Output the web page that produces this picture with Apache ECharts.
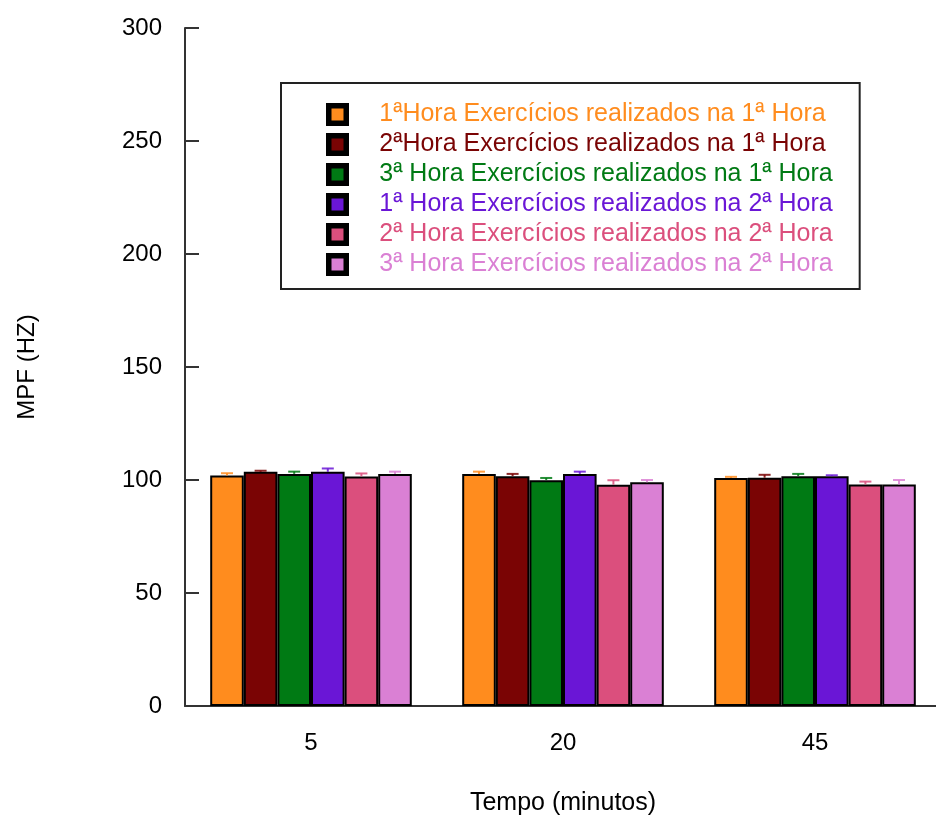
<!DOCTYPE html>
<html>
<head>
<meta charset="utf-8">
<script src="https://cdn.jsdelivr.net/npm/echarts@6/dist/echarts.min.js"></script>
<style>
html,body{margin:0;padding:0;background:#fff;}
#chart{width:936px;height:819px;}
</style>
</head>
<body>
<div id="chart"></div>
<script>
const categories = ['5', '20', '45'];
const seriesNames = [
  '1ªHora Exercícios realizados na 1ª Hora',
  '2ªHora Exercícios realizados na 1ª Hora',
  '3ª Hora Exercícios realizados na 1ª Hora',
  '1ª Hora Exercícios realizados na 2ª Hora',
  '2ª Hora Exercícios realizados na 2ª Hora',
  '3ª Hora Exercícios realizados na 2ª Hora'
];
const colors = ['#FF8C1E', '#7A0404', '#007A14', '#6A16D6', '#DB4F7D', '#DA80D4'];
const values1 = [102, 102.7, 100.9];
const values2 = [103.6, 101.7, 101];
const values3 = [102.7, 99.9, 101.7];
const values4 = [103.6, 102.7, 101.7];
const values5 = [101.6, 97.9, 98];
const values6 = [102.7, 99, 98];
const errors1 = [1, 1, 0.5];
const errors2 = [0.5, 1, 1.3];
const errors3 = [1, 1, 1];
const errors4 = [1.5, 1, 0.4];
const errors5 = [1.3, 2, 1.3];
const errors6 = [1, 1, 2];
const yTicks = [0, 50, 100, 150, 200, 250, 300];

const allValues = [values1, values2, values3, values4, values5, values6];
const allErrors = [errors1, errors2, errors3, errors4, errors5, errors6];
const nSeries = allValues.length;
const catGapRatio = 0.2;

const chart = echarts.init(document.getElementById('chart'));
const FONT = 'Liberation Sans, Arial, sans-serif';

const series = [];
allValues.forEach((vals, i) => {
  series.push({
    name: seriesNames[i],
    type: 'bar',
    data: vals,
    barGap: '0%',
    barCategoryGap: '20%',
    itemStyle: { color: colors[i], borderColor: '#000', borderWidth: 2 },
    emphasis: { disabled: true }
  });
});
allValues.forEach((vals, i) => {
  series.push({
    name: 'err' + i,
    type: 'custom',
    z: 5,
    data: vals.map((v, k) => [k, v, allErrors[i][k]]),
    renderItem: function (params, api) {
      const k = api.value(0);
      const v = api.value(1);
      const e = api.value(2);
      const band = api.size([1, 0])[0];
      const barW = band * (1 - catGapRatio) / nSeries;
      const center = api.coord([k, v]);
      const x = center[0] - band * (1 - catGapRatio) / 2 + barW * (i + 0.5);
      const yTop = api.coord([k, v + e])[1];
      const yBase = center[1];
      const half = 6;
      const style = { stroke: colors[i], lineWidth: 2, opacity: 0.85 };
      return {
        type: 'group',
        children: [
          { type: 'line', shape: { x1: x, y1: yBase, x2: x, y2: yTop }, style: style },
          { type: 'line', shape: { x1: x - half, y1: yTop, x2: x + half, y2: yTop }, style: style }
        ]
      };
    }
  });
});

chart.setOption({
  animation: false,
  backgroundColor: '#fff',
  grid: { left: 185, top: 28, width: 756, height: 678, containLabel: false, outerBoundsMode: 'none' },
  legend: {
    data: seriesNames.map((n, i) => ({ name: n, textStyle: { color: colors[i] } })),
    orient: 'vertical',
    left: 281,
    top: 83,
    padding: [19, 27, 12, 45],
    borderColor: '#222',
    borderWidth: 2,
    itemWidth: 17.5,
    itemHeight: 17.5,
    itemGap: 5,
    icon: 'rect',
    itemStyle: { borderColor: '#000', borderWidth: 5.5 },
    selectedMode: false,
    textStyle: { fontFamily: FONT, fontSize: 25, lineHeight: 24, padding: [0, 0, 0, 28] }
  },
  xAxis: {
    type: 'category',
    data: categories,
    name: 'Tempo (minutos)',
    nameLocation: 'middle',
    nameGap: 85,
    nameTextStyle: { fontFamily: FONT, fontSize: 25, color: '#000' },
    axisLine: { lineStyle: { color: '#333', width: 2 } },
    axisTick: { inside: true, length: 6, lineStyle: { color: '#333', width: 2 } },
    axisLabel: { fontFamily: FONT, fontSize: 24, color: '#000', margin: 25 },
    splitLine: { show: false }
  },
  yAxis: {
    type: 'value',
    min: yTicks[0],
    max: yTicks[yTicks.length - 1],
    interval: yTicks[1] - yTicks[0],
    name: 'MPF (HZ)',
    nameLocation: 'middle',
    nameRotate: 90,
    nameGap: 146,
    nameTextStyle: { fontFamily: FONT, fontSize: 24, color: '#000' },
    axisLine: { show: true, lineStyle: { color: '#333', width: 2 } },
    axisTick: { show: true, inside: true, length: 14, lineStyle: { color: '#333', width: 2 } },
    axisLabel: { fontFamily: FONT, fontSize: 24, color: '#000', margin: 23 },
    splitLine: { show: false }
  },
  series: series
});
</script>
</body>
</html>
